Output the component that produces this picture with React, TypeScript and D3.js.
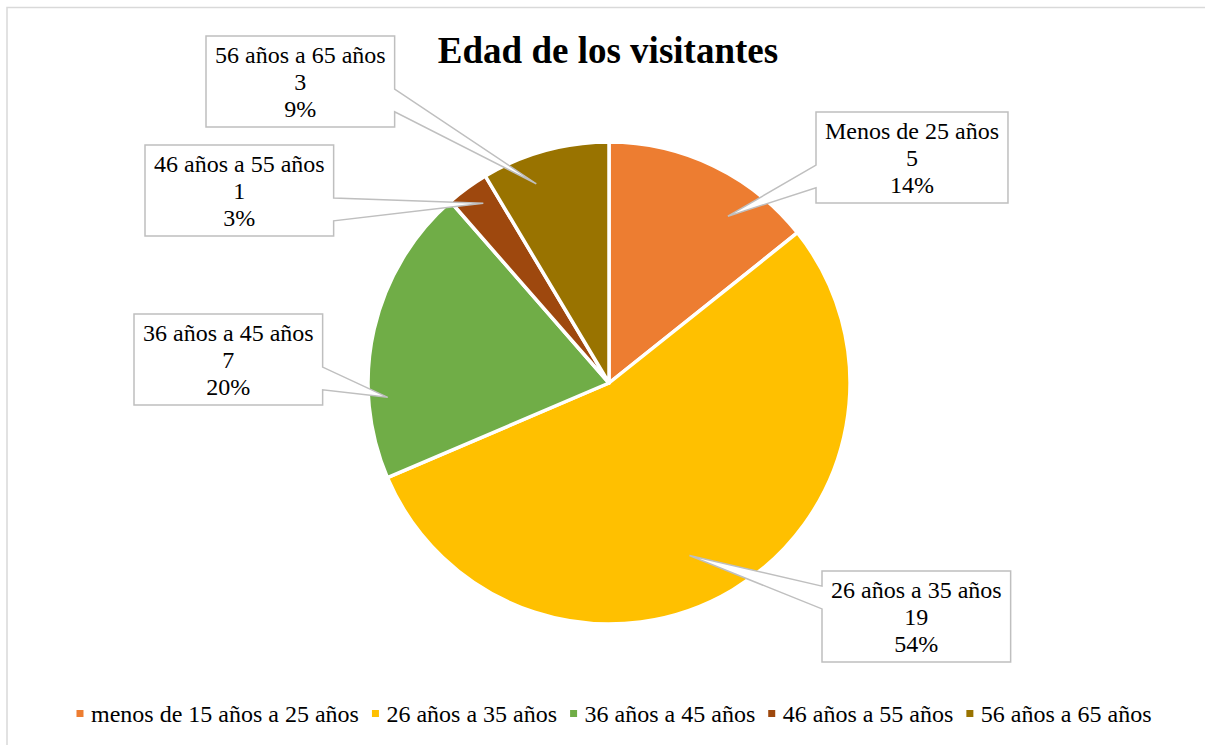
import { useEffect, useRef } from "react";
import * as d3 from "d3";

// chart values
const labels = [
  "Menos de 25 años",
  "26 años a 35 años",
  "36 años a 45 años",
  "46 años a 55 años",
  "56 años a 65 años",
];
const legendLabels = [
  "menos de 15 años a 25 años",
  "26 años a 35 años",
  "36 años a 45 años",
  "46 años a 55 años",
  "56 años a 65 años",
];
const visitors = [5, 19, 7, 1, 3];
const colors = ["#ED7D31", "#FFC000", "#70AD47", "#9E480E", "#997300"];
const title = "Edad de los visitantes";

// callout placement (box top-left, where the pointer lands inside the slice)
const calloutBoxes = [
  [816, 112],
  [822, 571],
  [134, 314],
  [145, 145],
  [206, 36],
];
const pointerAngleFrac = [0.69, 0.53, 0.27, 0.6, 0.35];
const pointerRadiusFrac = [0.85, 0.79, 0.92, 0.91, 0.88];

const W = 1205;
const H = 745;
const FONT = "Liberation Serif, Times New Roman, Tinos, DejaVu Serif, serif";

export default function App() {
  const svgRef = useRef<SVGSVGElement>(null);

  useEffect(() => {
    const svg = d3.select(svgRef.current);
    svg.selectAll("*").remove();

    const cx = 609;
    const cy = 383;
    const radius = 241;
    const total = d3.sum(visitors);
    const pct = d3.format(".0%");

    // chart border
    svg
      .append("rect")
      .attr("x", 7)
      .attr("y", 7.5)
      .attr("width", W + 20)
      .attr("height", H + 20)
      .attr("fill", "#fff")
      .attr("stroke", "#d9d9d9")
      .attr("stroke-width", 1.5);

    svg
      .append("text")
      .attr("x", 608)
      .attr("y", 63)
      .attr("text-anchor", "middle")
      .attr("font-family", FONT)
      .attr("font-size", 37)
      .attr("font-weight", "bold")
      .text(title);

    const pie = d3
      .pie<number>()
      .value((d) => d)
      .sort(null);
    const arcs = pie(visitors);
    const arc = d3.arc<d3.PieArcDatum<number>>().innerRadius(0).outerRadius(radius);

    const g = svg.append("g").attr("transform", `translate(${cx},${cy})`);
    g.selectAll("path")
      .data(arcs)
      .enter()
      .append("path")
      .attr("d", arc)
      .attr("fill", (d, i) => colors[i])
      .attr("stroke", "#fff")
      .attr("stroke-width", 3.5)
      .attr("stroke-linejoin", "round");

    // callouts
    const boxH = 91;
    arcs.forEach((d, i) => {
      const lines = [labels[i], String(visitors[i]), pct(visitors[i] / total)];
      const cg = svg.append("g");
      const path = cg.append("path");
      const texts = lines.map((t, k) =>
        cg
          .append("text")
          .attr("text-anchor", "middle")
          .attr("y", calloutBoxes[i][1] + 26.5 + k * 27)
          .attr("font-family", FONT)
          .attr("font-size", 24)
          .text(t)
      );
      const tw = d3.max(texts, (t) => (t.node() as SVGTextElement).getComputedTextLength()) || 0;
      const boxW = tw + 18;
      const [x0, y0] = calloutBoxes[i];
      texts.forEach((t) => t.attr("x", x0 + boxW / 2));

      const a = d.startAngle + (d.endAngle - d.startAngle) * pointerAngleFrac[i];
      const r = radius * pointerRadiusFrac[i];
      const ax = cx + Math.sin(a) * r;
      const ay = cy - Math.cos(a) * r;

      const below = ay > y0 + boxH / 2;
      const b1 = y0 + boxH * (below ? 7 / 12 : 1 / 6);
      const b2 = y0 + boxH * (below ? 5 / 6 : 5 / 12);
      const x1 = x0 + boxW;
      let dstr: string;
      if (ax > x1) {
        dstr = `M${x0},${y0}H${x1}V${b1}L${ax},${ay}L${x1},${b2}V${y0 + boxH}H${x0}Z`;
      } else {
        dstr = `M${x0},${y0}H${x1}V${y0 + boxH}H${x0}V${b2}L${ax},${ay}L${x0},${b1}Z`;
      }
      path
        .attr("d", dstr)
        .attr("fill", "#fff")
        .attr("stroke", "#bfbfbf")
        .attr("stroke-width", 1.5)
        .attr("stroke-linejoin", "miter");
    });

    // legend
    const legend = svg.append("g");
    const items = legendLabels.map((t, i) => {
      const ig = legend.append("g");
      ig.append("rect").attr("width", 7).attr("height", 7).attr("y", 710).attr("fill", colors[i]);
      const txt = ig
        .append("text")
        .attr("x", 14.5)
        .attr("y", 722)
        .attr("font-family", FONT)
        .attr("font-size", 24)
        .text(t);
      return { ig, w: 14.5 + (txt.node() as SVGTextElement).getComputedTextLength() };
    });
    const gap = 13;
    const totalW = d3.sum(items, (d) => d.w) + gap * (items.length - 1);
    let x = 614 - totalW / 2;
    items.forEach((it) => {
      it.ig.attr("transform", `translate(${x},0)`);
      x += it.w + gap;
    });
  }, []);

  return (
    <svg
      ref={svgRef}
      width={W}
      height={H}
      style={{ position: "absolute", left: 0, top: 0, background: "#fff" }}
    />
  );
}
